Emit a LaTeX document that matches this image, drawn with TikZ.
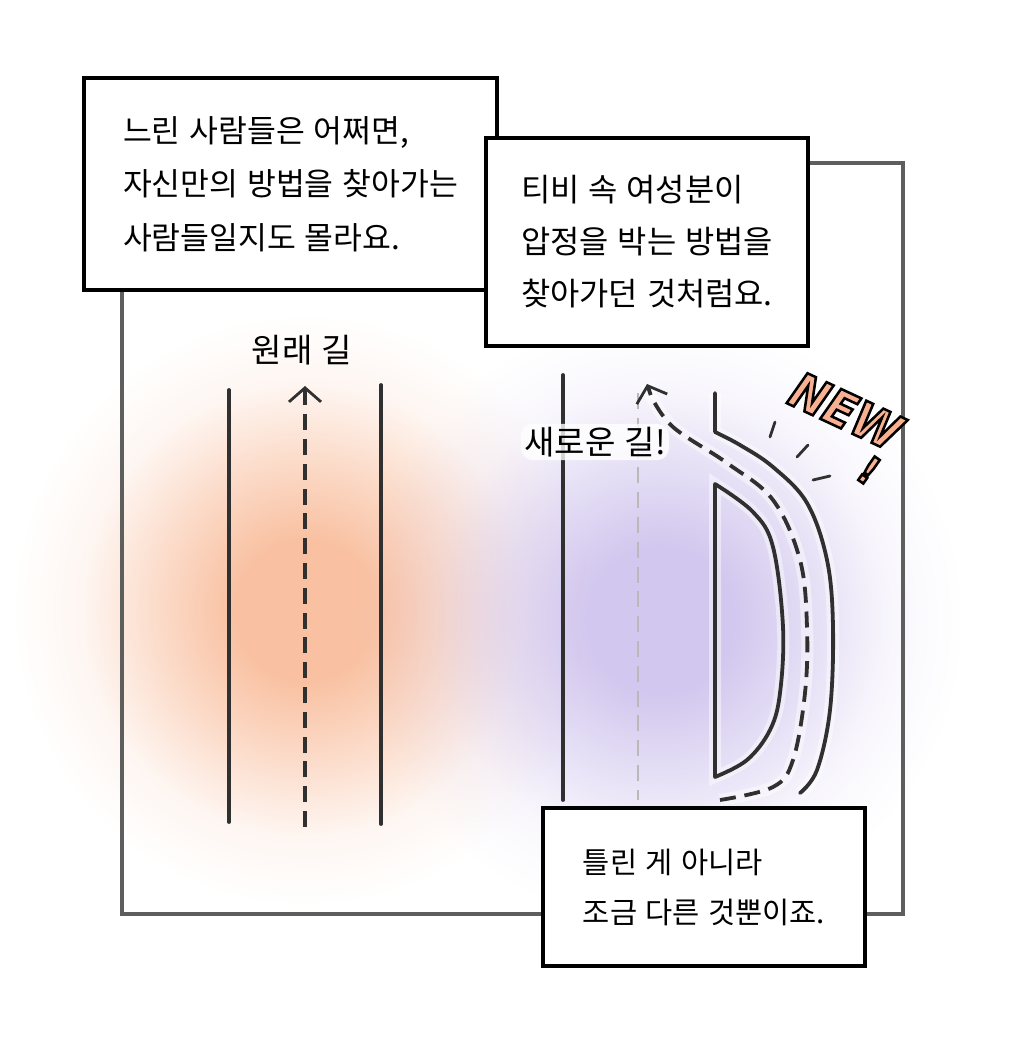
\documentclass[tikz,border=0pt]{standalone}
\usepackage{fontspec}
\newfontfamily\krfont[WordSpace=1.25]{Noto Sans CJK KR}
\newfontfamily\signfont{DejaVu Sans Condensed}
\usetikzlibrary{arrows.meta, fadings}
\definecolor{framegray}{HTML}{5E5E5E}
\definecolor{inkgray}{HTML}{303030}
\definecolor{lanegray}{HTML}{B9B9B9}
\definecolor{peach}{HTML}{F8B190}
\definecolor{glowor}{HTML}{F9C1A2}
\definecolor{glowvi}{HTML}{D2C7EE}
\pgfdeclareradialshading{glowmask}{\pgfpoint{0bp}{0bp}}{color(0bp)=(white); color(6bp)=(white); color(13bp)=(white!55!black); color(19bp)=(white!15!black); color(25bp)=(black); color(50bp)=(black)}
\pgfdeclarefading{softglow}{\pgfuseshading{glowmask}}
\newcommand{\outlined}[1]{\special{pdf:code 2 Tr 0 0 0 RG 1.8 w}#1\special{pdf:code 0 Tr}}

\begin{document}
\begin{tikzpicture}[x=0.025cm, y=-0.025cm,
  textbox/.style={draw=black, line width=0.1cm, fill=white, align=left, font=\krfont\fontsize{22.3pt}{38pt}\selectfont},
  roadlabel/.style={font=\krfont\fontsize{23.5pt}{26pt}\selectfont},
  road/.style={draw=inkgray, line width=0.095cm, line cap=round},
  lane/.style={draw=inkgray, line width=0.095cm, dash pattern=on 0.4cm off 0.22cm},
  halo/.style={preaction={draw=white, solid, arrows=-, line width=0.3cm, opacity=0.45}},
  newsign/.style={font=\signfont\bfseries\itshape\fontsize{35pt}{35pt}\selectfont, text=peach, inner sep=0pt},
  uparrow/.style={-{Straight Barb[length=0.35cm, width=0.8cm, line width=0.07cm]}}]
\useasboundingbox (0,0) rectangle (1024,1040);

\fill[glowor, path fading=softglow] (305,610) ellipse [x radius=7.3cm, y radius=7.4cm];
\fill[glowvi, path fading=softglow] (660,620) ellipse [x radius=7.6cm, y radius=7.6cm];

\draw[framegray, line width=0.08cm] (122,163) rectangle (903,914);

\draw[road] (229,390) -- (229,822);
\draw[road] (381,385) -- (381,824);
\draw[lane, uparrow] (305,827) -- (305,386);
\node[roadlabel] (oldlabel) at (302,350) {원래 길};

\draw[road] (563,375) -- (563,800);
\draw[lane, draw=lanegray, line width=0.07cm] (638,393) -- (638,800);
\draw[road, halo] (715,393) -- (715,432) plot[smooth, tension=0.6] coordinates {(715,432) (740,445) (773,467) (807,503) (827,560) (833,627) (830,710) (817,770) (800,793)};
\draw[road, halo, line join=round] plot[smooth, tension=0.6] coordinates {(715,484) (753,512) (773,547) (783,627) (780,693) (770,730) (747,760) (715,777)} -- cycle;
\draw[lane, halo, uparrow] plot[smooth, tension=0.6] coordinates {(720,800) (773,787) (793,760) (805,693) (807,627) (800,560) (773,500) (727,463) (673,427) (651,396)} -- (647,384);
\node[roadlabel, fill=white, fill opacity=0.8, text opacity=1, rounded corners=0.3cm, inner sep=0.08cm] (newlabel) at (595,442) {새로운 길!};

\draw[road, line width=0.07cm] (775,422) -- (770,437);
\draw[road, line width=0.07cm] (808,445) -- (797,457);
\draw[road, line width=0.07cm] (813,480) -- (830,476);
\node[newsign, rotate=-25] (newword) at (846,411) {\outlined{NEW}};
\node[newsign, rotate=-35, font=\signfont\bfseries\fontsize{28pt}{28pt}\selectfont] (bang) at (869,470) {\outlined{!}};

\node[textbox, minimum width=10.33cm, minimum height=5.3cm] (slowbox) at (290.5,184) {느린 사람들은 어쩌면,\\자신만의 방법을 찾아가는\\사람들일지도 몰라요.};
\node[textbox, minimum width=8.05cm, minimum height=5.2cm, font=\krfont\fontsize{22.6pt}{37pt}\selectfont] (tvbox) at (647,242) {티비 속 여성분이\\압정을 박는 방법을\\찾아가던 것처럼요.};
\node[textbox, minimum width=8.05cm, minimum height=3.95cm, font=\krfont\fontsize{21pt}{35.5pt}\selectfont] (diffbox) at (704,887) {틀린 게 아니라\\조금 다른 것뿐이죠.};
\end{tikzpicture}
\end{document}
